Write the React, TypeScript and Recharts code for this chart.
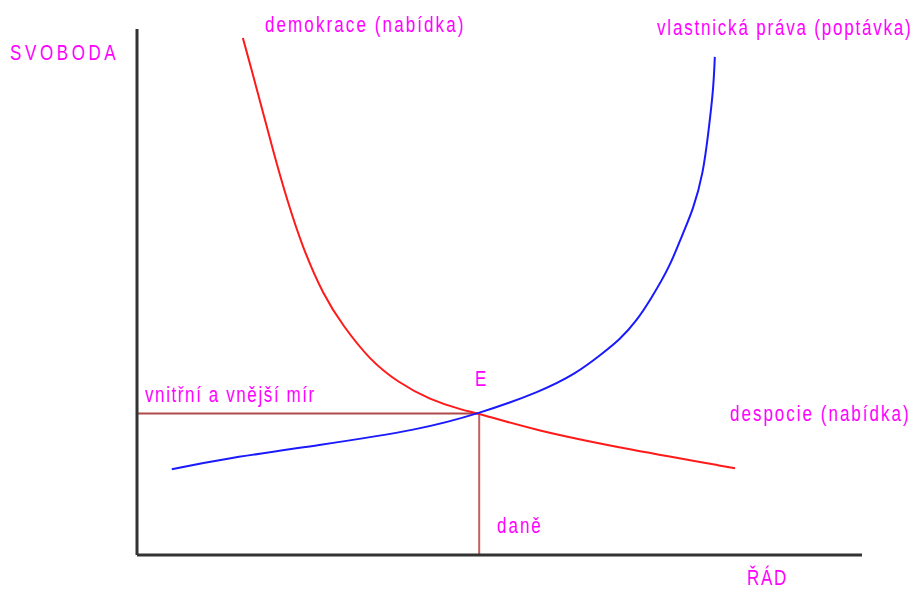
import { LineChart, Line, XAxis, YAxis, ReferenceLine } from "recharts"

// ŘÁD (x) vs SVOBODA (y), both on a 0–100 scale
const demokraceX = [14.6, 15.9, 17.4, 19.0, 20.7, 22.8, 25.7, 28.4, 32.1, 35.9, 40.4, 45.0, 47.2]
const demokraceY = [98.3, 91.8, 84.0, 75.7, 67.5, 58.6, 49.4, 43.6, 37.1, 32.9, 29.5, 27.5, 26.9]
const despocieX = [47.2, 54.6, 68.0, 82.5]
const despocieY = [26.9, 23.8, 20.0, 16.5]
const pravaX = [4.8, 11.0, 25.2, 39.0, 47.2, 55.6, 60.7, 63.9, 66.6, 69.0, 70.8, 73.5, 75.3, 76.7, 78.1, 78.8, 79.5, 79.7]
const pravaY = [16.3, 18.1, 20.9, 23.8, 26.9, 31.0, 34.6, 38.0, 40.9, 44.7, 48.5, 54.8, 61.2, 65.6, 72.6, 80.2, 88.4, 94.7]
const rovnovaha = { x: 47.2, y: 26.9 }

const toPoints = (xs: number[], ys: number[]) => xs.map((x, i) => ({ x, y: ys[i] }))
const nabidka = toPoints([...demokraceX, ...despocieX.slice(1)], [...demokraceY, ...despocieY.slice(1)])
const poptavka = toPoints(pravaX, pravaY)

const labels = [
  { text: "SVOBODA", left: 10, top: 42, ls: 3.6 },
  { text: "demokrace (nabídka)", left: 265, top: 14, ls: 2.1 },
  { text: "vlastnická práva (poptávka)", left: 657, top: 17, ls: 1.8 },
  { text: "vnitřní a vnější mír", left: 145, top: 384, ls: 1.6 },
  { text: "E", left: 475, top: 368, ls: 0 },
  { text: "despocie (nabídka)", left: 730, top: 403, ls: 2.0 },
  { text: "daně", left: 497, top: 515, ls: 2 },
  { text: "ŘÁD", left: 747, top: 567, ls: 1.7 },
]

export default function App() {
  return (
    <div style={{ position: "absolute", left: 0, top: 0, width: 913, height: 589, background: "#fff" }}>
      <LineChart width={913} height={589} margin={{ top: 29, right: 51, bottom: 34, left: 137 }}>
        <XAxis type="number" dataKey="x" domain={[0, 100]} hide allowDataOverflow />
        <YAxis type="number" dataKey="y" domain={[0, 100]} hide allowDataOverflow />
        <ReferenceLine segment={[{ x: 0, y: rovnovaha.y }, { x: rovnovaha.x, y: rovnovaha.y }]} stroke="#b04a4a" strokeWidth={2} />
        <ReferenceLine segment={[{ x: rovnovaha.x, y: 0 }, { x: rovnovaha.x, y: rovnovaha.y }]} stroke="#c06060" strokeWidth={2} />
        <Line data={nabidka} dataKey="y" type="basis" stroke="#ff1a1a" strokeWidth={2} dot={false} isAnimationActive={false} />
        <Line data={poptavka} dataKey="y" type="basis" stroke="#1a1aff" strokeWidth={2} dot={false} isAnimationActive={false} />
        <ReferenceLine segment={[{ x: 0, y: 0 }, { x: 0, y: 100 }]} stroke="#333" strokeWidth={3} />
        <ReferenceLine segment={[{ x: 0, y: 0 }, { x: 100, y: 0 }]} stroke="#333" strokeWidth={3} />
      </LineChart>
      {labels.map((l) => (
        <span key={l.text} style={{
          position: "absolute", left: l.left, top: l.top, color: "#ff00ff",
          fontFamily: "'Liberation Sans', Arial, sans-serif", fontSize: 17, lineHeight: "17px",
          letterSpacing: l.ls, whiteSpace: "nowrap", transform: "scaleY(1.3)", transformOrigin: "0 0",
        }}>{l.text}</span>
      ))}
    </div>
  )
}
